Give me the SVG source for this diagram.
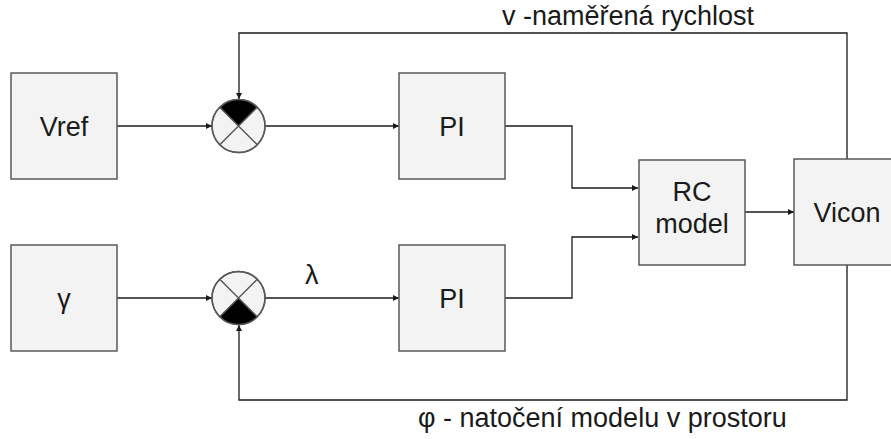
<svg xmlns="http://www.w3.org/2000/svg" width="891" height="439" viewBox="0 0 891 439">
<style>
.box{fill:#f3f3f3;stroke:#595959;stroke-width:1.5}
.lbl{font-family:"Liberation Sans",Arial,sans-serif;font-size:27px;fill:#1a1a1a;text-anchor:middle}
.edge{font-family:"Liberation Sans",Arial,sans-serif;font-size:27px;fill:#1a1a1a}
.ln{fill:none;stroke:#1a1a1a;stroke-width:1.3}
.circ{fill:#f3f3f3;stroke:#595959;stroke-width:1.5}
.diag{stroke:#595959;stroke-width:1.5}
</style>
<defs>
<marker id="ah" viewBox="0 0 10 10" refX="10" refY="5" markerWidth="6" markerHeight="6" markerUnits="userSpaceOnUse" orient="auto">
<path d="M0,0 L10,5 L0,10 z" fill="#1a1a1a"/>
</marker>
</defs>
<rect width="891" height="439" fill="#ffffff"/>
<g id="connectors">
<path class="ln" d="M117,126 H212" marker-end="url(#ah)"/>
<path class="ln" d="M265,126 H399" marker-end="url(#ah)"/>
<path class="ln" d="M117,298 H212" marker-end="url(#ah)"/>
<path class="ln" d="M265,298 H399" marker-end="url(#ah)"/>
<path class="ln" d="M505,126 H572 V188 H638" marker-end="url(#ah)"/>
<path class="ln" d="M505,298 H572 V237 H638" marker-end="url(#ah)"/>
<path class="ln" d="M745,212 H794" marker-end="url(#ah)"/>
<path class="ln" d="M847,159 V33 H239 V99" marker-end="url(#ah)"/>
<path class="ln" d="M847,265 V400 H239 V325" marker-end="url(#ah)"/>
<text class="edge" x="502" y="25">v -naměřená rychlost</text>
<text class="edge" x="418" y="427">φ - natočení modelu v prostoru</text>
<text class="edge" x="305" y="284">λ</text>
</g>
<g id="vref">
<rect class="box" x="11" y="73" width="106" height="106"/>
<text class="lbl" x="64" y="136">Vref</text>
</g>
<g id="gamma">
<rect class="box" x="11" y="245" width="106" height="106"/>
<text class="lbl" x="64" y="308">γ</text>
</g>
<g id="sum1">
<circle class="circ" cx="238.5" cy="126" r="26.5"/>
<path d="M238.5,126 L219.76,107.26 A26.5,26.5 0 0 1 257.24,107.26 Z" fill="#000"/>
<path class="diag" d="M219.76,107.26 L257.24,144.74 M257.24,107.26 L219.76,144.74"/>
<circle cx="238.5" cy="126" r="26.5" fill="none" stroke="#595959" stroke-width="1.5"/>
</g>
<g id="sum2">
<circle class="circ" cx="238.5" cy="298" r="26.5"/>
<path d="M238.5,298 L257.24,316.74 A26.5,26.5 0 0 1 219.76,316.74 Z" fill="#000"/>
<path class="diag" d="M219.76,279.26 L257.24,316.74 M257.24,279.26 L219.76,316.74"/>
<circle cx="238.5" cy="298" r="26.5" fill="none" stroke="#595959" stroke-width="1.5"/>
</g>
<g id="pi1">
<rect class="box" x="399" y="73" width="106" height="106"/>
<text class="lbl" x="452" y="136">PI</text>
</g>
<g id="pi2">
<rect class="box" x="399" y="245" width="106" height="106"/>
<text class="lbl" x="452" y="308">PI</text>
</g>
<g id="rc">
<rect class="box" x="639" y="160" width="106" height="105"/>
<text class="lbl" x="692" y="201">RC</text>
<text class="lbl" x="692" y="233">model</text>
</g>
<g id="vicon">
<rect class="box" x="794" y="159" width="106" height="106"/>
<text class="lbl" x="847" y="222">Vicon</text>
</g>
</svg>
